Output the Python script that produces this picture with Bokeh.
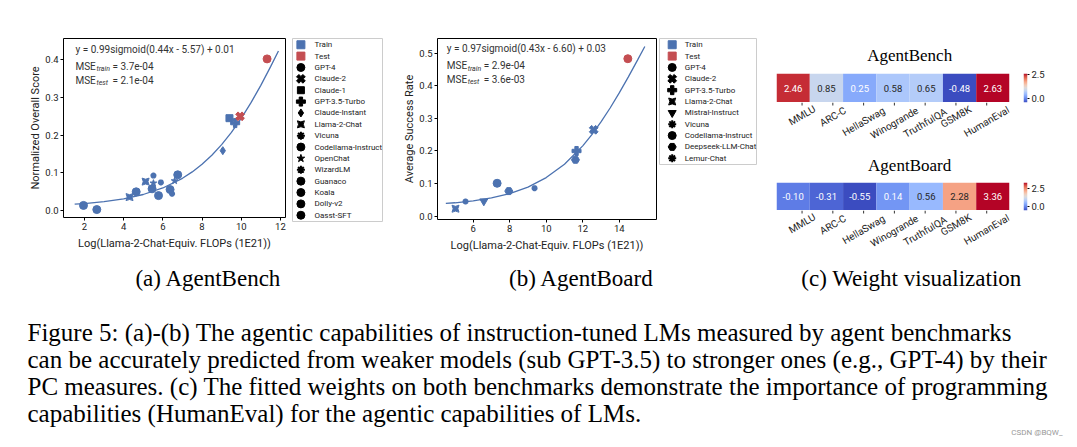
import math
import numpy as np
from bokeh.plotting import figure
from bokeh.models import (Range1d, FixedTicker, Label, LinearColorMapper,
                          ColumnDataSource, NumeralTickFormatter, FactorRange)
from bokeh.layouts import row, column
from bokeh.embed import file_html
from bokeh.resources import INLINE

# ---------------- data ----------------
a_model = ["Koala", "Dolly-v2", "Llama-2-Chat", "Guanaco", "Llama-2-Chat", "Vicuna",
           "Codellama-Instruct", "OpenChat", "Oasst-SFT", "WizardLM", "Codellama-Instruct",
           "Vicuna", "OpenChat", "Codellama-Instruct", "Claude-Instant", "Claude-1",
           "GPT-3.5-Turbo", "Claude-2", "GPT-4"]
a_x = [1.95, 2.63, 4.30, 4.64, 5.12, 5.52, 5.45, 5.52, 5.78, 5.90, 6.37, 6.47, 6.60, 6.76,
       9.06, 9.40, 9.69, 9.94, 11.32]
a_y = [0.014, 0.003, 0.036, 0.050, 0.077, 0.093, 0.058, 0.073, 0.040, 0.075, 0.056, 0.045,
       0.079, 0.095, 0.159, 0.245, 0.232, 0.250, 0.402]
a_split = ["Train"] * 17 + ["Test"] * 2
a_curve_x = [1.5, 2, 3, 4, 5, 6, 7, 7.5, 8, 8.5, 9, 9.5, 10, 10.5, 11, 11.5, 11.9]
a_curve_y = [0.0172, 0.0190, 0.0239, 0.0315, 0.0429, 0.0602, 0.0858, 0.1027, 0.1229, 0.1469,
             0.1749, 0.2074, 0.2444, 0.2861, 0.3320, 0.3815, 0.4231]
a_legend_models = ["GPT-4", "Claude-2", "Claude-1", "GPT-3.5-Turbo", "Claude-Instant",
                   "Llama-2-Chat", "Vicuna", "Codellama-Instruct", "OpenChat", "WizardLM",
                   "Guanaco", "Koala", "Dolly-v2", "Oasst-SFT"]
a_fit = "y = 0.99sigmoid(0.44x - 5.57) + 0.01"
a_mse = ["3.7e-04", "2.1e-04"]

b_model = ["Llama-2-Chat", "Vicuna", "Mistral-Instruct", "Codellama-Instruct",
           "Deepseek-LLM-Chat", "Lemur-Chat", "Deepseek-LLM-Chat", "GPT-3.5-Turbo",
           "Claude-2", "GPT-4"]
b_x = [5.03, 5.58, 6.58, 7.31, 7.95, 9.36, 11.60, 11.66, 12.60, 14.47]
b_y = [0.023, 0.045, 0.046, 0.101, 0.077, 0.086, 0.173, 0.200, 0.265, 0.483]
b_split = ["Train"] * 9 + ["Test"]
b_curve_x = [4.5, 5, 6, 7, 8, 9, 10, 11, 12, 12.5, 13, 13.5, 14, 14.5, 15, 15.4]
b_curve_y = [0.0391, 0.0412, 0.0471, 0.0561, 0.0695, 0.0894, 0.1184, 0.1595, 0.2158, 0.2502,
             0.2890, 0.3318, 0.3781, 0.4274, 0.4787, 0.5203]
b_legend_models = ["GPT-4", "Claude-2", "GPT-3.5-Turbo", "Llama-2-Chat", "Mistral-Instruct",
                   "Vicuna", "Codellama-Instruct", "Deepseek-LLM-Chat", "Lemur-Chat"]
b_fit = "y = 0.97sigmoid(0.43x - 6.60) + 0.03"
b_mse = ["2.9e-04", "3.6e-03"]

benchmarks = ["MMLU", "ARC-C", "HellaSwag", "Winogrande", "TruthfulQA", "GSM8K", "HumanEval"]
w_agentbench = [2.46, 0.85, 0.25, 0.58, 0.65, -0.48, 2.63]
w_agentboard = [-0.10, -0.31, -0.55, 0.14, 0.56, 2.28, 3.36]
heat_titles = ["AgentBench", "AgentBoard"]
cbar_ticks = [0.0, 2.5]

captions = ["(a) AgentBench", "(b) AgentBoard", "(c) Weight visualization"]
paragraph = [
    "Figure 5: (a)-(b) The agentic capabilities of instruction-tuned LMs measured by agent benchmarks",
    "can be accurately predicted from weaker models (sub GPT-3.5) to stronger ones (e.g., GPT-4) by their",
    "PC measures. (c) The fitted weights on both benchmarks demonstrate the importance of programming",
    "capabilities (HumanEval) for the agentic capabilities of LMs.",
]

# ---------------- style ----------------
BLUE, RED = "#4C72B0", "#C44E52"
SPLIT_COLOR = {"Train": BLUE, "Test": RED}
FONT = "Roboto"
SERIF = "Liberation Serif"
TXT = "#222222"
# model -> (marker, angle, size, line width, legend size)
MARK = {
    "GPT-4": ("circle", 0, 8, 1, 8), "Claude-2": ("plus", math.pi / 4, 9, 1, 9),
    "Claude-1": ("square", 0, 7, 1, 7), "GPT-3.5-Turbo": ("plus", 0, 9, 1, 9),
    "Claude-Instant": ("diamond", 0, 8, 1, 8), "Llama-2-Chat": ("square_pin", 0, 7, 1, 7),
    "Vicuna": ("asterisk", 0, 6, 2, 8), "Codellama-Instruct": ("circle", 0, 8, 1, 8),
    "OpenChat": ("star", 0, 7, 1, 8), "WizardLM": ("asterisk", 0, 6, 2, 8),
    "Guanaco": ("circle", 0, 8, 1, 8), "Koala": ("circle", 0, 8, 1, 8),
    "Dolly-v2": ("circle", 0, 8, 1, 8), "Oasst-SFT": ("circle", 0, 8, 1, 8),
    "Mistral-Instruct": ("inverted_triangle", 0, 8, 1, 8),
    "Deepseek-LLM-Chat": ("hex", 0, 8, 1, 8),
    "Lemur-Chat": ("asterisk", 0, 6, 2, 8),
}
COOLWARM = ["#3b4cc0", "#5977e3", "#7b9ff9", "#9ebeff", "#c0d4f5", "#dddcdc",
            "#f2cbb7", "#f7ac8e", "#ee8468", "#d65244", "#b40426"]


def hex2rgb(h):
    return [int(h[i:i + 2], 16) for i in (1, 3, 5)]


def interp(t):
    t = min(max(t, 0.0), 1.0) * (len(COOLWARM) - 1)
    i = min(int(t), len(COOLWARM) - 2)
    f = t - i
    a, b = hex2rgb(COOLWARM[i]), hex2rgb(COOLWARM[i + 1])
    return [a[k] + (b[k] - a[k]) * f for k in range(3)]


PALETTE = ["#%02x%02x%02x" % tuple(round(c) for c in interp(i / 255)) for i in range(256)]


def text_color(v, lo, hi):
    rgb = [c / 255 for c in interp((v - lo) / (hi - lo))]
    lin = [c / 12.92 if c <= 0.03928 else ((c + 0.055) / 1.055) ** 2.4 for c in rgb]
    lum = 0.2126 * lin[0] + 0.7152 * lin[1] + 0.0722 * lin[2]
    return "#262626" if lum > 0.408 else "white"


def base_fig(**kw):
    p = figure(output_backend="svg", toolbar_location=None, **kw)
    p.grid.visible = False
    return p


def scatter_panel(fw, fh, mb, xr, yr, xticks, yticks, xs, ys, models, splits,
                  cx, cy, ylabel, fit, mse, lab_x, lab_ys):
    p = base_fig(frame_width=fw, frame_height=fh, x_range=Range1d(*xr), y_range=Range1d(*yr),
                 min_border_left=mb[0], min_border_right=mb[1], min_border_top=mb[2],
                 min_border_bottom=mb[3])
    p.outline_line_color = "black"
    p.outline_line_width = 1
    for ax in (p.xaxis[0], p.yaxis[0]):
        ax.axis_line_color = None
        ax.major_tick_in = 0
        ax.major_tick_out = 3
        ax.minor_tick_line_color = None
        ax.major_label_text_font = FONT
        ax.major_label_text_font_size = "9.5px"
        ax.major_label_text_color = TXT
        ax.axis_label_text_font = FONT
        ax.axis_label_text_font_size = "11px"
        ax.axis_label_text_font_style = "normal"
        ax.axis_label_text_color = TXT
        ax.major_label_standoff = 2
    p.xaxis.axis_label_standoff = 4
    p.yaxis.axis_label_standoff = 0
    p.xaxis.ticker = FixedTicker(ticks=xticks)
    p.yaxis.ticker = FixedTicker(ticks=yticks)
    p.yaxis.formatter = NumeralTickFormatter(format="0.0")
    p.xaxis.axis_label = "Log(Llama-2-Chat-Equiv. FLOPs (1E21))"
    p.yaxis.axis_label = ylabel

    p.line(cx, cy, line_color=BLUE, line_width=1.3)
    src = ColumnDataSource(dict(
        x=xs, y=ys,
        marker=[MARK[m][0] for m in models], angle=[MARK[m][1] for m in models],
        size=[MARK[m][2] for m in models], lw=[MARK[m][3] for m in models],
        color=[SPLIT_COLOR[s] for s in splits]))
    p.scatter("x", "y", source=src, marker="marker", angle="angle", size="size",
              fill_color="color", line_color="color", line_width="lw")

    kw = dict(text_font=FONT, text_baseline="middle", text_color="#333333")
    p.add_layout(Label(x=lab_x, y=lab_ys[0], text=fit, text_font_size="10px", **kw))
    for yy, sub, val in zip(lab_ys[1:], ("train", "test"), mse):
        p.add_layout(Label(x=lab_x, y=yy, text="MSE", text_font_size="10px", **kw))
        p.add_layout(Label(x=lab_x, y=yy, x_offset=21, y_offset=-3, text=sub,
                           text_font_size="7px", text_font_style="italic", **kw))
        p.add_layout(Label(x=lab_x, y=yy, x_offset=37, text="= " + val,
                           text_font_size="10px", **kw))
    return p


def legend_fig(fw, fh, right, bottom, legend_models, glyph_x, label_x):
    labels = ["Train", "Test"] + legend_models
    n = len(labels)
    pad = 0.55
    p = base_fig(frame_width=fw, frame_height=fh, x_range=Range1d(0, fw),
                 y_range=Range1d(n - 1 + pad, -pad),
                 min_border_left=0, min_border_right=right, min_border_top=38,
                 min_border_bottom=bottom, x_axis_location=None, y_axis_location=None)
    p.outline_line_color = "#cccccc"
    p.outline_line_width = 1
    mk = ["square", "square"] + [MARK[m][0] for m in legend_models]
    ang = [0, 0] + [MARK[m][1] for m in legend_models]
    sz = [8, 8] + [MARK[m][4] for m in legend_models]
    lw = [1, 1] + [MARK[m][3] for m in legend_models]
    col = [BLUE, RED] + ["black"] * len(legend_models)
    src = ColumnDataSource(dict(x=[glyph_x] * n, y=list(range(n)), marker=mk, angle=ang,
                                size=sz, lw=lw, color=col, lx=[label_x] * n, label=labels))
    p.scatter("x", "y", source=src, marker="marker", angle="angle", size="size",
              fill_color="color", line_color="color", line_width="lw")
    p.text("lx", "y", text="label", source=src, text_baseline="middle",
           text_font={"value": FONT}, text_font_size="8px", text_color=TXT)
    return p


pa = scatter_panel(222, 179, (63, 7, 37, 47), (0.93, 12.26), (-0.018, 0.456),
                   [2, 4, 6, 8, 10, 12], [0, 0.1, 0.2, 0.3, 0.4],
                   a_x, a_y, a_model, a_split, a_curve_x, a_curve_y,
                   "Normalized Overall Score", a_fit, a_mse,
                   1.54, [0.427, 0.382, 0.346])
la = legend_fig(90, 183, 10, 42, a_legend_models, 8.4, 22)
pb = scatter_panel(219, 181, (45, 3, 38, 44), (4.044, 16.04), (-0.0101, 0.545),
                   [6, 8, 10, 12, 14], [0, 0.1, 0.2, 0.3, 0.4, 0.5],
                   b_x, b_y, b_model, b_split, b_curve_x, b_curve_y,
                   "Average Success Rate", b_fit, b_mse,
                   4.55, [0.514, 0.462, 0.420])
lb = legend_fig(97, 126, 9, 99, b_legend_models, 12.7, 25.3)

# ---------------- (c) heatmaps ----------------
NB = len(benchmarks)
CELL = 233 / NB          # pixel width of one cell
HEAT_W = 252             # heat column width (11 left + 233 cells + 8 right)


def cell_range():
    return Range1d(-11 / CELL, NB + 8 / CELL)


def heat_strip(vals, fh):
    lo, hi = min(vals), max(vals)
    p = base_fig(frame_width=233, frame_height=fh, x_range=FactorRange(factors=benchmarks),
                 y_range=Range1d(0, 1), min_border_left=11, min_border_right=8,
                 min_border_top=0, min_border_bottom=0, y_axis_location=None,
                 x_axis_location=None)
    p.outline_line_color = None
    mapper = LinearColorMapper(palette=PALETTE, low=lo, high=hi)
    src = ColumnDataSource(dict(x=benchmarks, y=[0.5] * len(vals), v=vals,
                                t=["%.2f" % v for v in vals],
                                tc=[text_color(v, lo, hi) for v in vals]))
    p.rect("x", "y", width=1, height=1, source=src,
           fill_color={"field": "v", "transform": mapper}, line_color=None)
    p.text("x", "y", text="t", source=src, text_color="tc", text_align="center",
           text_baseline="middle", text_font_size="9.5px", text_font={"value": FONT})
    return p


def text_strip(height, with_labels, title=None, title_y=None):
    p = base_fig(width=HEAT_W, height=height, x_range=cell_range(),
                 y_range=Range1d(-height, 0), min_border=0,
                 x_axis_location=None, y_axis_location=None)
    p.outline_line_color = None
    if with_labels:
        fs = 10
        xs = [i + 0.5 for i in range(NB)]
        p.segment(x0=xs, y0=[0] * NB, x1=xs, y1=[-3] * NB, line_color="#333333",
                  line_width=1)
        yc = [-(3.5 + (0.25 * fs * len(b) + 0.866 * fs) / 2) for b in benchmarks]
        p.text(x=xs, y=yc, text=benchmarks, angle=math.pi / 6, text_align="center",
               text_baseline="middle", text_font={"value": FONT},
               text_font_size="%dpx" % fs, text_color=TXT)
    if title:
        p.add_layout(Label(x=(909 - 776) / CELL, y=title_y, text=title, text_align="center",
                           text_baseline="middle", text_font=SERIF, text_font_size="17px",
                           text_color="black"))
    return p


def cbar_fig(vals, height, top, fh):
    lo, hi = min(vals), max(vals)
    mapper = LinearColorMapper(palette=PALETTE, low=lo, high=hi)
    p = base_fig(frame_width=4, frame_height=fh, x_range=Range1d(0, 1),
                 y_range=Range1d(lo, hi), min_border_left=6, min_border_right=50,
                 min_border_top=top, min_border_bottom=height - top - fh,
                 x_axis_location=None, y_axis_location="right")
    p.outline_line_color = None
    grad = np.linspace(lo, hi, 256).reshape(-1, 1)
    p.image(image=[grad], x=0, y=lo, dw=1, dh=hi - lo, color_mapper=mapper)
    ax = p.yaxis[0]
    ax.ticker = FixedTicker(ticks=cbar_ticks)
    ax.formatter = NumeralTickFormatter(format="0.0")
    ax.axis_line_color = None
    ax.major_tick_in = 0
    ax.major_tick_out = 2
    ax.minor_tick_line_color = None
    ax.major_label_standoff = 2
    ax.major_label_text_font = FONT
    ax.major_label_text_font_size = "9.5px"
    ax.major_label_text_color = TXT
    return p


c_top = text_strip(73, False, heat_titles[0], -55)
h1 = heat_strip(w_agentbench, 29)
c_mid = text_strip(80, True, heat_titles[1], -63)
h2 = heat_strip(w_agentboard, 28)
c_bot = text_strip(53, True)
cb1 = cbar_fig(w_agentbench, 150, 73, 29)
cb2 = cbar_fig(w_agentboard, 113, 32, 28)
pc = row(column(c_top, h1, c_mid, h2, c_bot), column(cb1, cb2))

# ---------------- captions ----------------
pt = base_fig(width=1077, height=184, x_range=Range1d(0, 1077), y_range=Range1d(447, 263),
              min_border=0, x_axis_location=None, y_axis_location=None)
pt.outline_line_color = None
for cap, cxp in zip(captions, (208, 581, 911)):
    pt.add_layout(Label(x=cxp, y=278, text=cap, text_align="center", text_baseline="middle",
                        text_font=SERIF, text_font_size="23px", text_color="black"))
for i, line in enumerate(paragraph):
    pt.add_layout(Label(x=27, y=331.5 + 27 * i, text=line, text_align="left",
                        text_baseline="middle", text_font=SERIF, text_font_size="25px",
                        text_color="black"))
pt.add_layout(Label(x=1062, y=432, text="CSDN @BQW_", text_align="right",
                    text_baseline="middle", text_font=FONT, text_font_size="8px",
                    text_color="#999999"))

layout = column(row(pa, la, pb, lb, pc), pt)
open("out.html", "w").write(file_html(layout, INLINE))
